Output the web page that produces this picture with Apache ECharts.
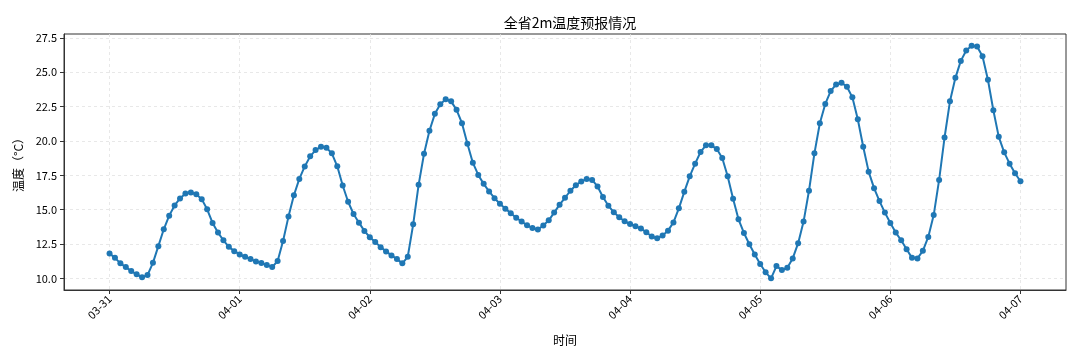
<!DOCTYPE html>
<html>
<head>
<meta charset="utf-8">
<script src="https://cdn.jsdelivr.net/npm/echarts@6/dist/echarts.min.js"></script>
<style>
html,body{margin:0;padding:0;background:#fff;}
#main{width:1080px;height:360px;}
</style>
</head>
<body>
<div id="main"></div>
<script>
// Day tick labels (one tick every 24 hours)
const dayLabels = ['03-31','04-01','04-02','04-03','04-04','04-05','04-06','04-07'];
const dayTickHours = [0,24,48,72,96,120,144,168];
const yTicks = [10,12.5,15,17.5,20,22.5,25,27.5];

// Hourly 2m temperature (°C), 03-31 00:00 to 04-07 00:00
const temps = [
  11.82,11.50,11.10,10.83,10.54,10.30,10.09,10.25,11.14,12.35,13.58,14.57,15.31,15.82,16.18,16.25,16.13,15.77,15.03,14.04,13.34,12.78,12.30,11.99,
  11.75,11.58,11.41,11.24,11.12,10.98,10.83,11.27,12.73,14.50,16.05,17.24,18.15,18.88,19.34,19.58,19.51,19.10,18.16,16.76,15.58,14.69,14.06,13.46,
  13.00,12.66,12.28,11.97,11.68,11.41,11.10,11.58,13.94,16.81,19.07,20.74,21.97,22.67,23.03,22.88,22.26,21.29,19.80,18.42,17.53,16.88,16.33,15.84,
  15.44,15.08,14.74,14.42,14.14,13.87,13.67,13.56,13.85,14.23,14.79,15.37,15.87,16.38,16.78,17.05,17.24,17.17,16.69,15.92,15.29,14.81,14.45,14.16,
  13.96,13.80,13.63,13.36,13.05,12.93,13.12,13.48,14.08,15.10,16.30,17.43,18.35,19.20,19.68,19.68,19.41,18.76,17.43,15.80,14.30,13.31,12.49,11.74,
  11.05,10.45,10.01,10.90,10.61,10.78,11.46,12.57,14.14,16.38,19.10,21.29,22.69,23.63,24.11,24.23,23.94,23.17,21.58,19.58,17.77,16.57,15.63,14.79,
  14.04,13.34,12.78,12.13,11.50,11.46,12.01,13.02,14.61,17.17,20.25,22.88,24.59,25.82,26.57,26.93,26.86,26.16,24.45,22.23,20.30,19.17,18.35,17.65,
  17.07
];

const seriesData = temps.map((v, i) => [i, v]);
const tMin = Math.min(...temps), tMax = Math.max(...temps);
const yPad = (tMax - tMin) * 0.05;
const xPad = (temps.length - 1) * 0.05;

const font = '"Noto Sans CJK SC", "DejaVu Sans", sans-serif';
const gridLine = {show: true, lineStyle: {color: '#e2e2e2', type: [3, 3], width: 0.8}};

const chart = echarts.init(document.getElementById('main'), null, {renderer: 'canvas'});
chart.setOption({
  animation: false,
  backgroundColor: '#fff',
  title: {
    text: '全省2m温度预报情况',
    left: 565, top: 11, textAlign: 'center',
    textStyle: {fontFamily: font, fontSize: 14, fontWeight: 'normal', color: '#000'}
  },
  grid: {left: 64, right: 14, top: 34, bottom: 70, show: true, borderColor: '#333', borderWidth: 1, backgroundColor: 'transparent'},
  xAxis: {
    type: 'value',
    min: -xPad, max: temps.length - 1 + xPad,
    name: '时间', nameLocation: 'middle', nameGap: 44,
    nameTextStyle: {fontFamily: font, fontSize: 12, color: '#000'},
    axisLine: {show: true, onZero: false, lineStyle: {color: '#333', width: 1}},
    axisTick: {show: true, length: 4, customValues: dayTickHours, lineStyle: {color: '#333'}},
    axisLabel: {
      customValues: dayTickHours, rotate: 45, margin: 7,
      fontFamily: font, fontSize: 11, color: '#000',
      formatter: v => dayLabels[dayTickHours.indexOf(Math.round(v))] || ''
    },
    splitLine: gridLine
  },
  yAxis: {
    type: 'value',
    min: tMin - yPad, max: tMax + yPad,
    name: '温度（°C）', nameLocation: 'middle', nameGap: 40, nameRotate: 90,
    nameTextStyle: {fontFamily: font, fontSize: 12, color: '#000'},
    axisLine: {show: true, onZero: false, lineStyle: {color: '#333', width: 1}},
    axisTick: {show: true, length: 4, customValues: yTicks, lineStyle: {color: '#333'}},
    axisLabel: {
      customValues: yTicks, margin: 7,
      fontFamily: font, fontSize: 11, color: '#000',
      formatter: v => v.toFixed(1)
    },
    splitLine: gridLine
  },
  series: [{
    type: 'line',
    data: seriesData,
    symbol: 'circle', symbolSize: 6,
    lineStyle: {color: '#1f77b4', width: 2},
    itemStyle: {color: '#1f77b4'},
    z: 3
  }]
});
</script>
</body>
</html>
